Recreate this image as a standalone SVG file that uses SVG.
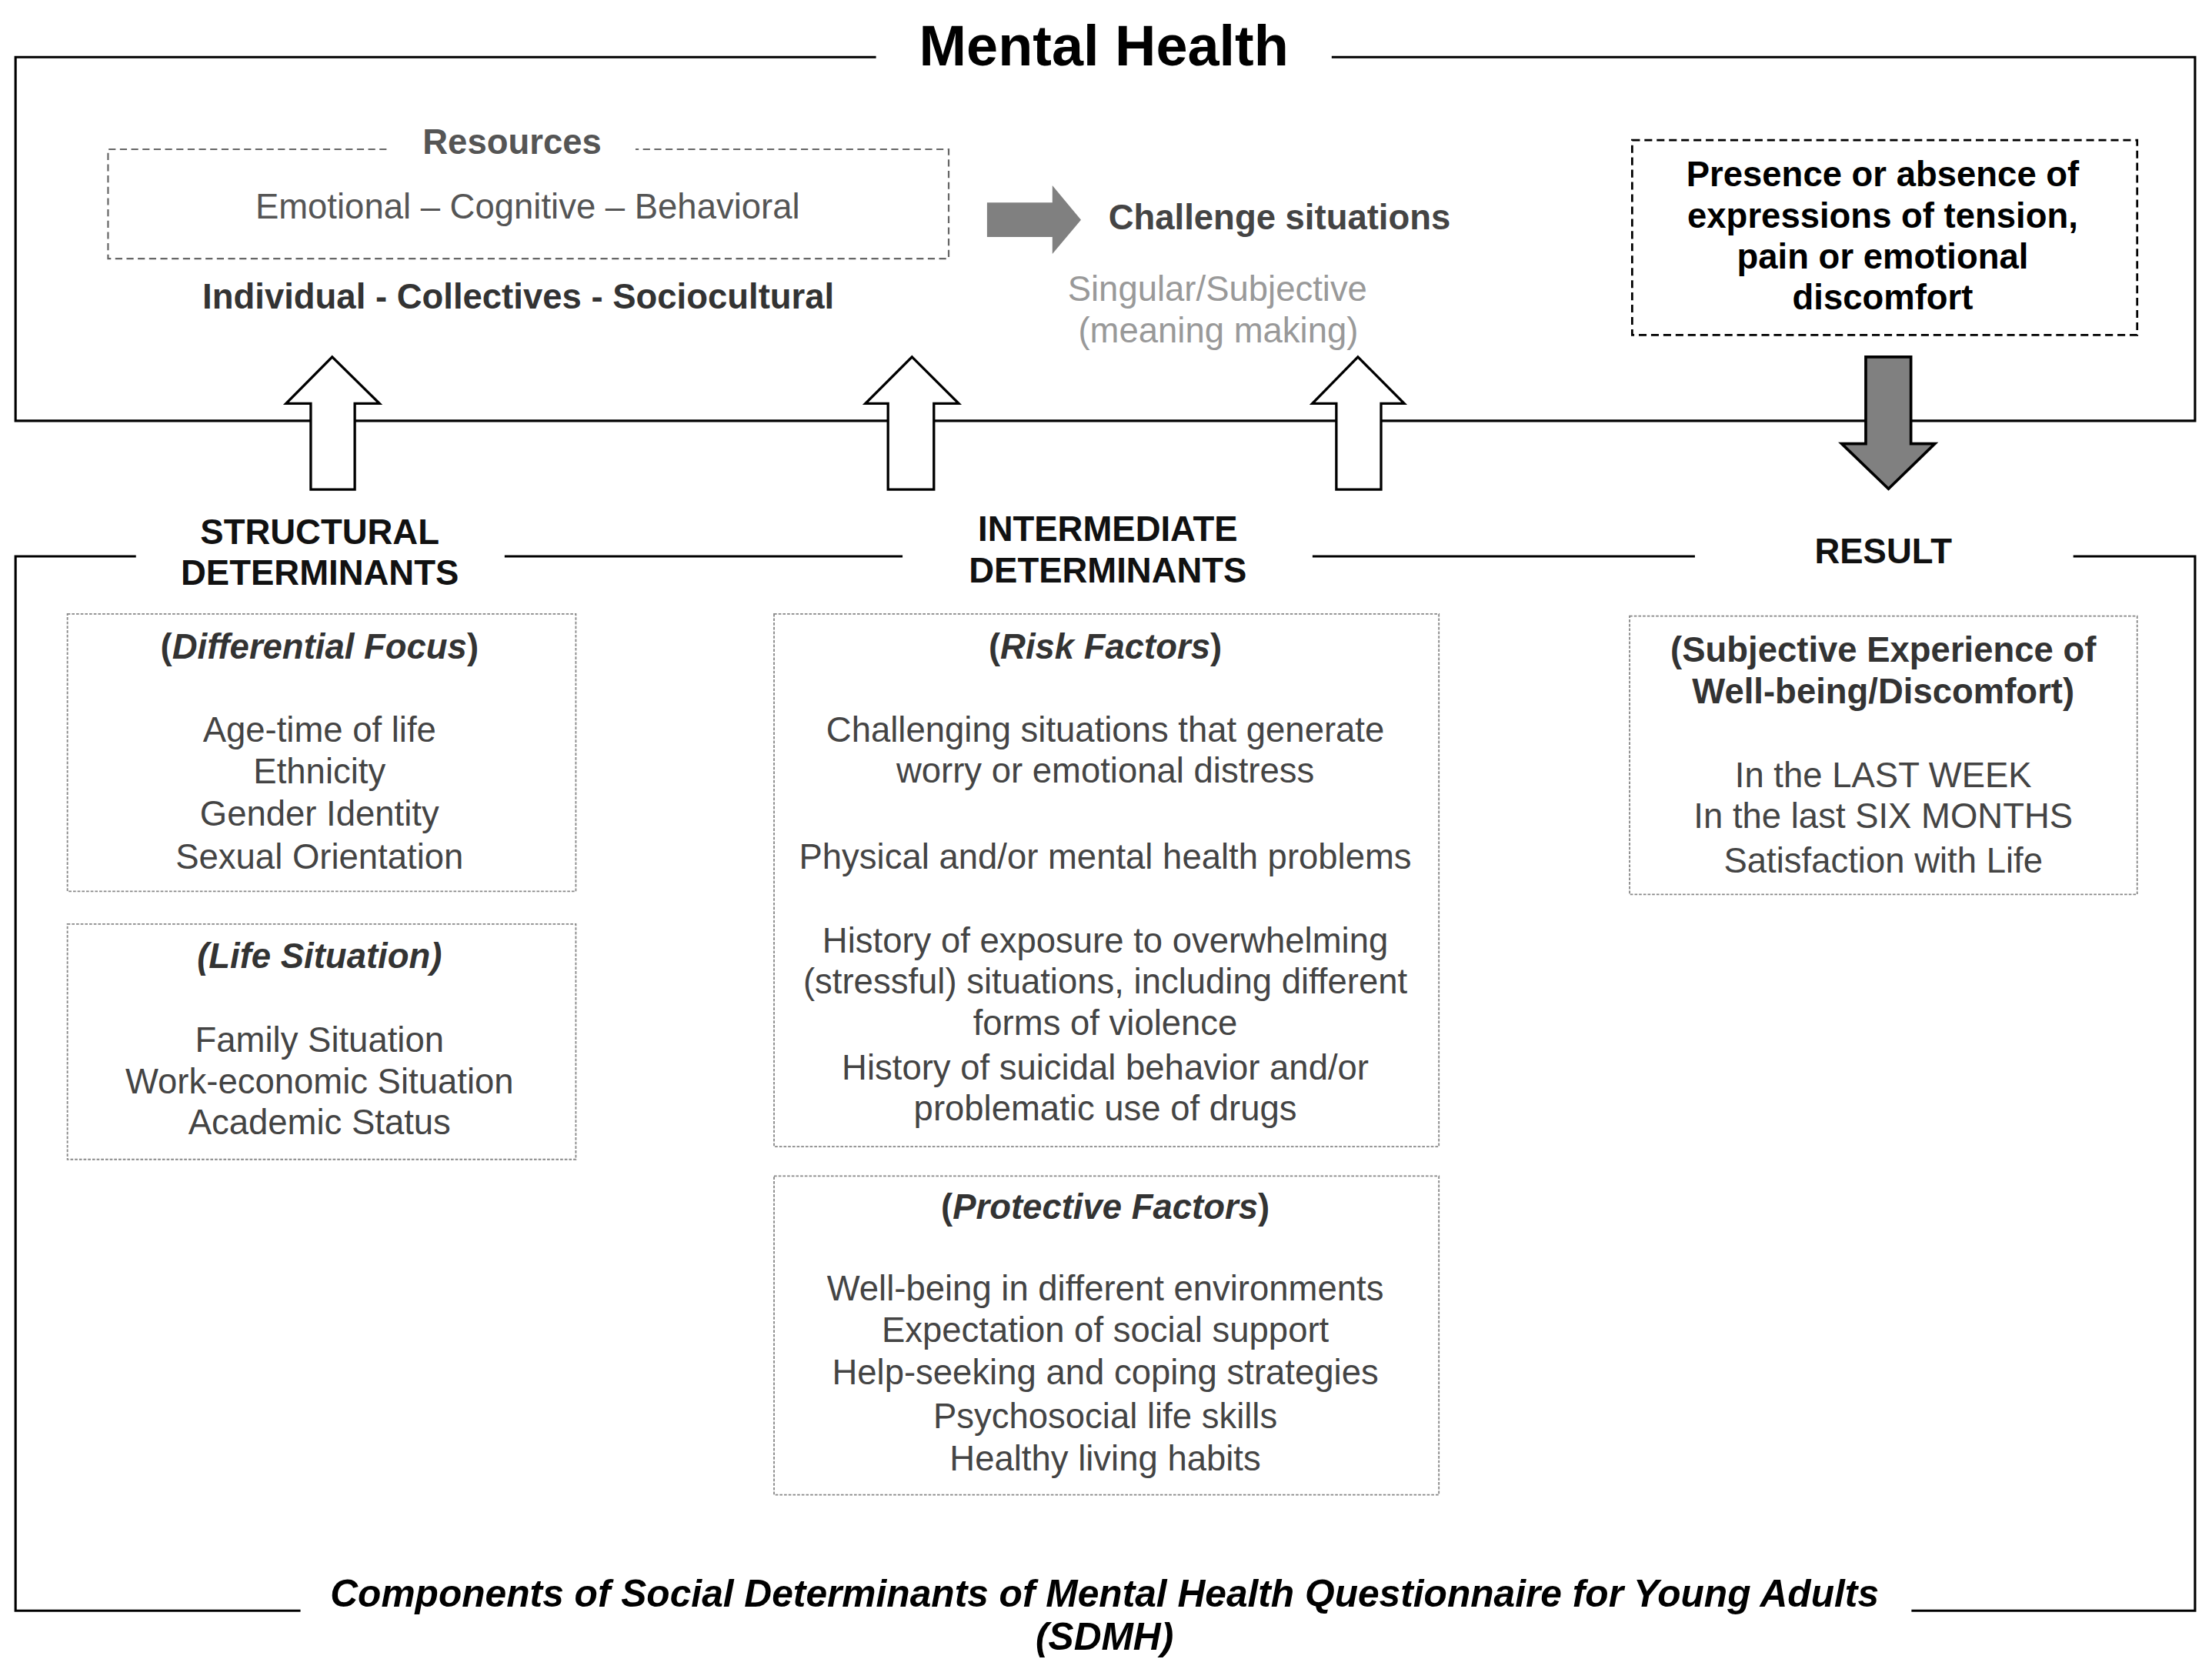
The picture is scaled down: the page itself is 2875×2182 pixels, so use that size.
<svg xmlns="http://www.w3.org/2000/svg" width="2875" height="2182" viewBox="0 0 2875 2182">
<style>
text { font-family: "Liberation Sans", Arial, sans-serif; font-size: 24.8px; text-anchor: middle; }
.b { font-weight: bold; }
.i { font-style: italic; }
.body { fill: #444; }
.hd { fill: #333; }
.blk { fill: #111; }
.frame { fill: none; stroke: #000; stroke-width: 1.7; }
.box { fill: none; stroke: #888; stroke-width: 1; stroke-dasharray: 2 1.1; }
.up { fill: #fff; stroke: #000; stroke-width: 1.8; stroke-linejoin: miter; }
.down { fill: #808080; stroke: #000; stroke-width: 2; }
</style>
<rect x="0" y="0" width="2875" height="2182" fill="#fff"/>
<g transform="scale(1.8335)">
  <g id="frames">
    <polyline class="frame" points="621,40.5 11,40.5 11,298.3 1556,298.3 1556,40.5 944,40.5"/>
    <polyline class="frame" points="96.4,394.3 11,394.3 11,1141.7 213,1141.7"/>
    <polyline class="frame" points="1355,1141.7 1556,1141.7 1556,394.3 1469.7,394.3"/>
    <line class="frame" x1="357.7" y1="394.3" x2="639.8" y2="394.3"/>
    <line class="frame" x1="930.4" y1="394.3" x2="1201.5" y2="394.3"/>
  </g>
  <g id="title">
    <text x="782.5" y="46.5" class="b" style="font-size:40.3px" fill="#000">Mental Health</text>
  </g>
  <g id="resources">
    <path d="M274,105.8 H76.6 V183.3 H672.5 V105.8 H450.5" fill="none" stroke="#666" stroke-width="1.2" stroke-dasharray="5 3"/>
    <text x="363" y="109.3" class="b" fill="#555">Resources</text>
    <text x="374" y="155" fill="#555">Emotional – Cognitive – Behavioral</text>
    <text x="367.4" y="218.5" class="b" fill="#333">Individual - Collectives - Sociocultural</text>
  </g>
  <g id="challenge">
    <text x="907" y="162.5" class="b" fill="#444">Challenge situations</text>
    <text x="863" y="213.5" fill="#999">Singular/Subjective</text>
    <text x="863.6" y="242.5" fill="#999">(meaning making)</text>
  </g>
  <g id="presence">
    <rect x="1157" y="99.3" width="358" height="138.1" fill="none" stroke="#000" stroke-width="1.5" stroke-dasharray="5.5 3.2"/>
    <text x="1334.6" y="132" class="b" fill="#000">Presence or absence of</text>
    <text x="1334.6" y="161.2" class="b" fill="#000">expressions of tension,</text>
    <text x="1334.6" y="190.4" class="b" fill="#000">pain or emotional</text>
    <text x="1334.6" y="219.5" class="b" fill="#000">discomfort</text>
  </g>
  <g id="structural-label">
    <text x="226.7" y="385.5" class="b blk">STRUCTURAL</text>
    <text x="226.7" y="414.7" class="b blk">DETERMINANTS</text>
  </g>
  <g id="intermediate-label">
    <text x="785.3" y="383.4" class="b blk">INTERMEDIATE</text>
    <text x="785.3" y="412.9" class="b blk">DETERMINANTS</text>
  </g>
  <g id="result-label">
    <text x="1335" y="399.5" class="b blk">RESULT</text>
  </g>
  <g id="differential-focus">
    <rect class="box" x="47.8" y="435.2" width="360.4" height="196.6"/>
    <text x="226.5" y="467" class="b hd">(<tspan class="i">Differential Focus</tspan>)</text>
    <text x="226.5" y="525.8" class="body">Age-time of life</text>
    <text x="226.5" y="555" class="body">Ethnicity</text>
    <text x="226.5" y="585" class="body">Gender Identity</text>
    <text x="226.5" y="615.5" class="body">Sexual Orientation</text>
  </g>
  <g id="life-situation">
    <rect class="box" x="47.8" y="655" width="360.4" height="166.8"/>
    <text x="226.5" y="686.1" class="b i hd">(Life Situation)</text>
    <text x="226.5" y="745.5" class="body">Family Situation</text>
    <text x="226.5" y="774.8" class="body">Work-economic Situation</text>
    <text x="226.5" y="804.1" class="body">Academic Status</text>
  </g>
  <g id="risk-factors">
    <rect class="box" x="548.7" y="435.2" width="471.3" height="377.5"/>
    <text x="783.5" y="467" class="b hd">(<tspan class="i">Risk Factors</tspan>)</text>
    <text x="783.5" y="525.8" class="body">Challenging situations that generate</text>
    <text x="783.5" y="554.8" class="body">worry or emotional distress</text>
    <text x="783.5" y="615.5" class="body">Physical and/or mental health problems</text>
    <text x="783.5" y="675.1" class="body">History of exposure to overwhelming</text>
    <text x="783.5" y="704.3" class="body">(stressful) situations, including different</text>
    <text x="783.5" y="733.7" class="body">forms of violence</text>
    <text x="783.5" y="765" class="body">History of suicidal behavior and/or</text>
    <text x="783.5" y="794.1" class="body">problematic use of drugs</text>
  </g>
  <g id="protective-factors">
    <rect class="box" x="548.7" y="833.6" width="471.3" height="225.9"/>
    <text x="783.5" y="863.9" class="b hd">(<tspan class="i">Protective Factors</tspan>)</text>
    <text x="783.5" y="921.5" class="body">Well-being in different environments</text>
    <text x="783.5" y="951.2" class="body">Expectation of social support</text>
    <text x="783.5" y="981" class="body">Help-seeking and coping strategies</text>
    <text x="783.5" y="1012.2" class="body">Psychosocial life skills</text>
    <text x="783.5" y="1042.1" class="body">Healthy living habits</text>
  </g>
  <g id="subjective-experience">
    <rect class="box" x="1155.2" y="436.7" width="359.8" height="197.3"/>
    <text x="1335" y="469" class="b hd">(Subjective Experience of</text>
    <text x="1335" y="498.3" class="b hd">Well-being/Discomfort)</text>
    <text x="1335" y="557.8" class="body">In the LAST WEEK</text>
    <text x="1335" y="587" class="body">In the last SIX MONTHS</text>
    <text x="1335" y="618.3" class="body">Satisfaction with Life</text>
  </g>
  <g id="caption">
    <text x="783" y="1139" class="b i" style="font-size:27.1px" fill="#000">Components of Social Determinants of Mental Health Questionnaire for Young Adults</text>
    <text x="783" y="1169.5" class="b i" style="font-size:27.1px" fill="#000">(SDMH)</text>
  </g>
  <g id="connectors">
    <polygon fill="#808080" points="699.7,143.6 746,143.6 746,131.5 766.3,155.8 746,180 746,168 699.7,168"/>
    <polygon class="up" points="235.5,253 269,286 251.5,286 251.5,347 220.3,347 220.3,286 202.8,286"/>
    <polygon class="up" points="646.5,253 679.6,286 662,286 662,347 629.5,347 629.5,286 613.5,286"/>
    <polygon class="up" points="962.6,253 995.4,286 979,286 979,347 947.3,347 947.3,286 930.3,286"/>
    <polygon class="down" points="1322.6,253 1354.6,253 1354.6,314.5 1371.6,314.5 1338.7,346.5 1305.5,314.5 1322.6,314.5"/>
  </g>
</g>
</svg>
